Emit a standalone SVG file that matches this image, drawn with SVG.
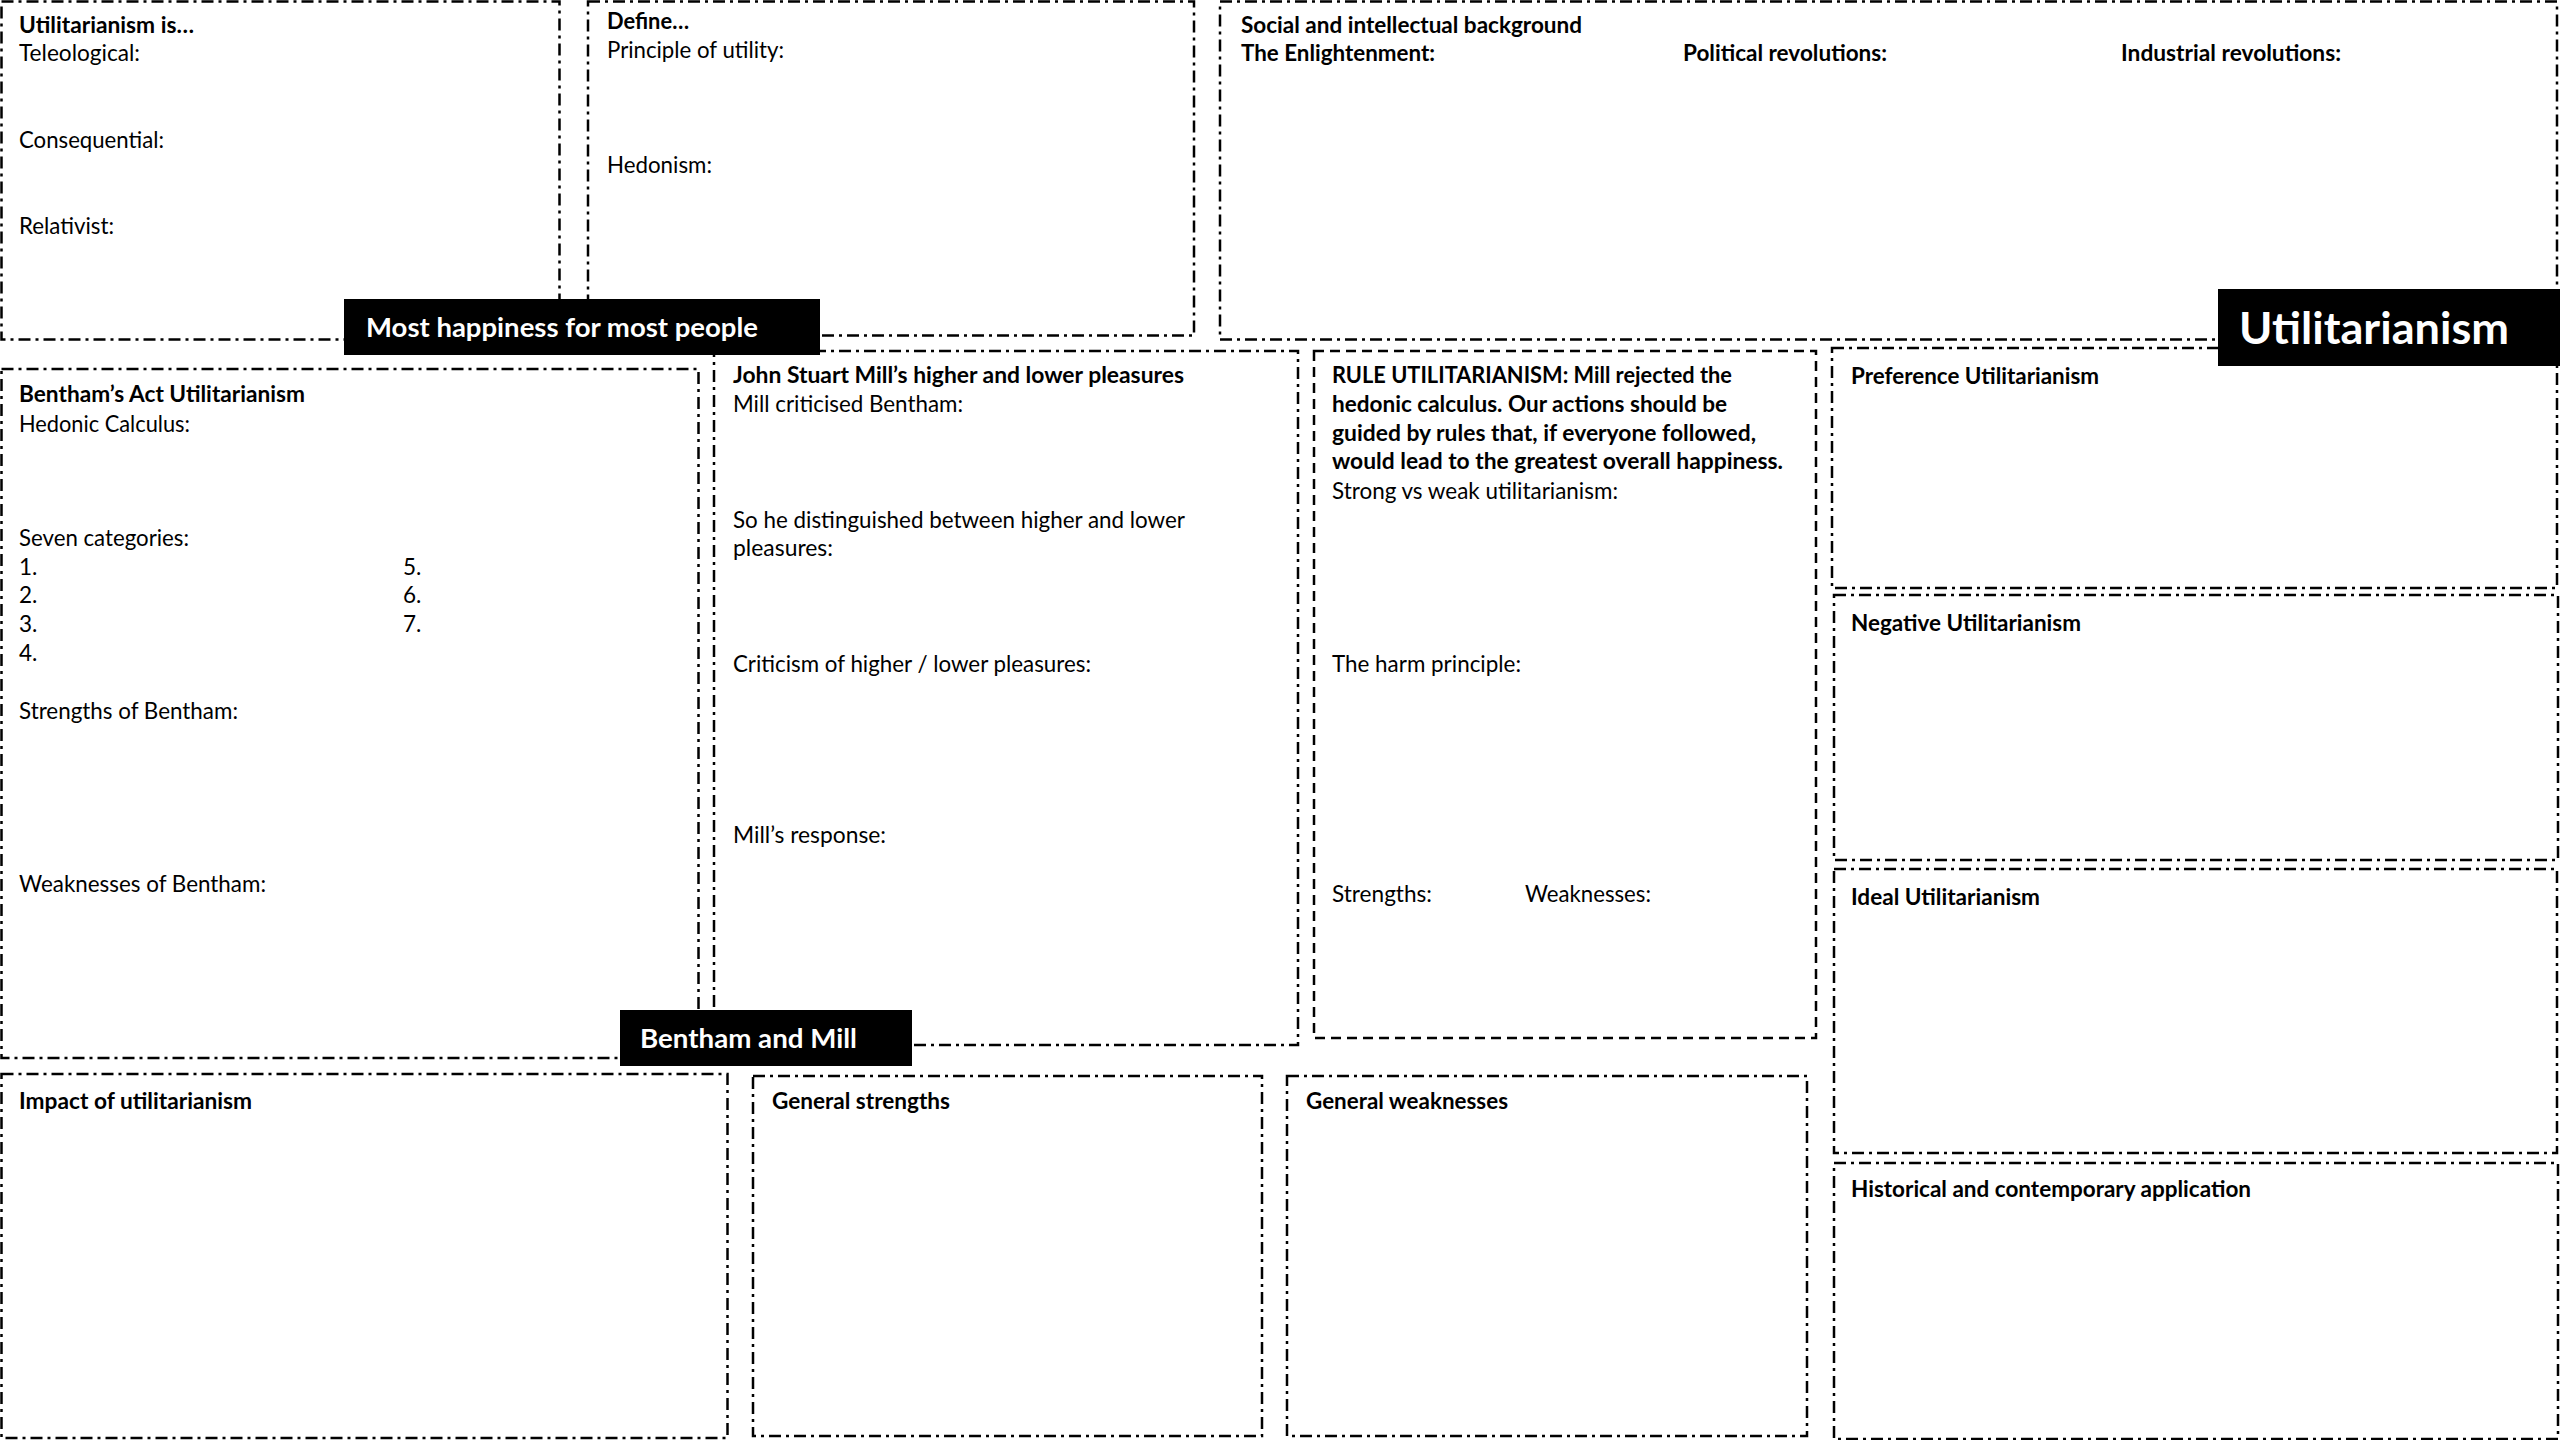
<svg xmlns="http://www.w3.org/2000/svg" width="2560" height="1440" viewBox="0 0 2560 1440">
<style>
.dd{fill:none;stroke:#000;stroke-width:2.5;stroke-dasharray:12 5 3 5}
.ds{fill:none;stroke:#000;stroke-width:2.5;stroke-dasharray:10 6}
text{font-family:Lato,"Open Sans","Liberation Sans",sans-serif;font-size:22.5px;fill:#000}
.b{font-weight:700}
.lbl{fill:#000}
text.lt{fill:#fff;font-weight:700;font-size:26.5px}
text.big{font-size:43px}
</style>
<rect width="2560" height="1440" fill="#fff"/>
<g id="connectors"/>
<g id="box-utilitarianism-is">
<rect class="dd" x="1.5" y="1.5" width="558" height="338"/>
<text class="b" x="19" y="33" textLength="175" lengthAdjust="spacingAndGlyphs">Utilitarianism is…</text>
<text x="19" y="61" textLength="121" lengthAdjust="spacingAndGlyphs">Teleological:</text>
<text x="19" y="148" textLength="145" lengthAdjust="spacingAndGlyphs">Consequential:</text>
<text x="19" y="234" textLength="95" lengthAdjust="spacingAndGlyphs">Relativist:</text>
</g>
<g id="box-define">
<rect class="dd" x="588" y="1.5" width="606" height="334"/>
<text class="b" x="607" y="29" textLength="82" lengthAdjust="spacingAndGlyphs">Define…</text>
<text x="607" y="58" textLength="177" lengthAdjust="spacingAndGlyphs">Principle of utility:</text>
<text x="607" y="173" textLength="105" lengthAdjust="spacingAndGlyphs">Hedonism:</text>
</g>
<g id="box-background">
<rect class="dd" x="1220" y="1.5" width="1337" height="338"/>
<text class="b" x="1241" y="33" textLength="341" lengthAdjust="spacingAndGlyphs">Social and intellectual background</text>
<text class="b" x="1241" y="61" textLength="194" lengthAdjust="spacingAndGlyphs">The Enlightenment:</text>
<text class="b" x="1683" y="61" textLength="204" lengthAdjust="spacingAndGlyphs">Political revolutions:</text>
<text class="b" x="2121" y="61" textLength="220" lengthAdjust="spacingAndGlyphs">Industrial revolutions:</text>
</g>
<g id="box-bentham">
<rect class="dd" x="1.5" y="369" width="697" height="689"/>
<text class="b" x="19" y="402" textLength="286" lengthAdjust="spacingAndGlyphs">Bentham’s Act Utilitarianism</text>
<text x="19" y="432" textLength="171" lengthAdjust="spacingAndGlyphs">Hedonic Calculus:</text>
<text x="19" y="546" textLength="170" lengthAdjust="spacingAndGlyphs">Seven categories:</text>
<text x="19" y="575">1.</text>
<text x="19" y="603">2.</text>
<text x="19" y="632">3.</text>
<text x="19" y="661">4.</text>
<text x="403" y="575">5.</text>
<text x="403" y="603">6.</text>
<text x="403" y="632">7.</text>
<text x="19" y="719" textLength="219" lengthAdjust="spacingAndGlyphs">Strengths of Bentham:</text>
<text x="19" y="892" textLength="247" lengthAdjust="spacingAndGlyphs">Weaknesses of Bentham:</text>
</g>
<g id="box-mill">
<rect class="dd" x="714" y="351" width="584" height="694"/>
<text class="b" x="733" y="383" textLength="451" lengthAdjust="spacingAndGlyphs">John Stuart Mill’s higher and lower pleasures</text>
<text x="733" y="412" textLength="230" lengthAdjust="spacingAndGlyphs">Mill criticised Bentham:</text>
<text x="733" y="528" textLength="452" lengthAdjust="spacingAndGlyphs">So he distinguished between higher and lower</text>
<text x="733" y="556" textLength="100" lengthAdjust="spacingAndGlyphs">pleasures:</text>
<text x="733" y="672" textLength="358" lengthAdjust="spacingAndGlyphs">Criticism of higher / lower pleasures:</text>
<text x="733" y="843" textLength="153" lengthAdjust="spacingAndGlyphs">Mill’s response:</text>
</g>
<g id="box-rule">
<rect class="ds" x="1314" y="351" width="502" height="687"/>
<text class="b" x="1332" y="383" textLength="400" lengthAdjust="spacingAndGlyphs">RULE UTILITARIANISM: Mill rejected the</text>
<text class="b" x="1332" y="412" textLength="395" lengthAdjust="spacingAndGlyphs">hedonic calculus. Our actions should be</text>
<text class="b" x="1332" y="441" textLength="424" lengthAdjust="spacingAndGlyphs">guided by rules that, if everyone followed,</text>
<text class="b" x="1332" y="469" textLength="451" lengthAdjust="spacingAndGlyphs">would lead to the greatest overall happiness.</text>
<text x="1332" y="499" textLength="286" lengthAdjust="spacingAndGlyphs">Strong vs weak utilitarianism:</text>
<text x="1332" y="672" textLength="189" lengthAdjust="spacingAndGlyphs">The harm principle:</text>
<text x="1332" y="902" textLength="100" lengthAdjust="spacingAndGlyphs">Strengths:</text>
<text x="1525" y="902" textLength="126" lengthAdjust="spacingAndGlyphs">Weaknesses:</text>
</g>
<g id="box-preference">
<rect class="dd" x="1832" y="348" width="725" height="240"/>
<text class="b" x="1851" y="384" textLength="248" lengthAdjust="spacingAndGlyphs">Preference Utilitarianism</text>
</g>
<g id="box-negative">
<rect class="dd" x="1834" y="595" width="724" height="265"/>
<text class="b" x="1851" y="631" textLength="230" lengthAdjust="spacingAndGlyphs">Negative Utilitarianism</text>
</g>
<g id="box-ideal">
<rect class="dd" x="1834" y="869" width="723" height="284"/>
<text class="b" x="1851" y="905" textLength="189" lengthAdjust="spacingAndGlyphs">Ideal Utilitarianism</text>
</g>
<g id="box-historical">
<rect class="dd" x="1834" y="1163" width="724" height="276"/>
<text class="b" x="1851" y="1197" textLength="400" lengthAdjust="spacingAndGlyphs">Historical and contemporary application</text>
</g>
<g id="box-impact">
<rect class="dd" x="1.5" y="1074" width="726" height="364"/>
<text class="b" x="19" y="1109" textLength="233" lengthAdjust="spacingAndGlyphs">Impact of utilitarianism</text>
</g>
<g id="box-general-strengths">
<rect class="dd" x="753" y="1076" width="509" height="360"/>
<text class="b" x="772" y="1109" textLength="178" lengthAdjust="spacingAndGlyphs">General strengths</text>
</g>
<g id="box-general-weaknesses">
<rect class="dd" x="1287" y="1076" width="520" height="360"/>
<text class="b" x="1306" y="1109" textLength="202" lengthAdjust="spacingAndGlyphs">General weaknesses</text>
</g>
<g id="label-most-happiness">
<rect class="lbl" x="344" y="299" width="476" height="56"/>
<text class="lt" x="366" y="337" textLength="392" lengthAdjust="spacingAndGlyphs">Most happiness for most people</text>
</g>
<g id="label-utilitarianism">
<rect class="lbl" x="2218" y="289" width="342" height="77"/>
<text class="lt big" x="2239" y="344" textLength="270" lengthAdjust="spacingAndGlyphs">Utilitarianism</text>
</g>
<g id="label-bentham-mill">
<rect class="lbl" x="620" y="1010" width="292" height="56"/>
<text class="lt" x="640" y="1048" textLength="217" lengthAdjust="spacingAndGlyphs">Bentham and Mill</text>
</g>
</svg>
